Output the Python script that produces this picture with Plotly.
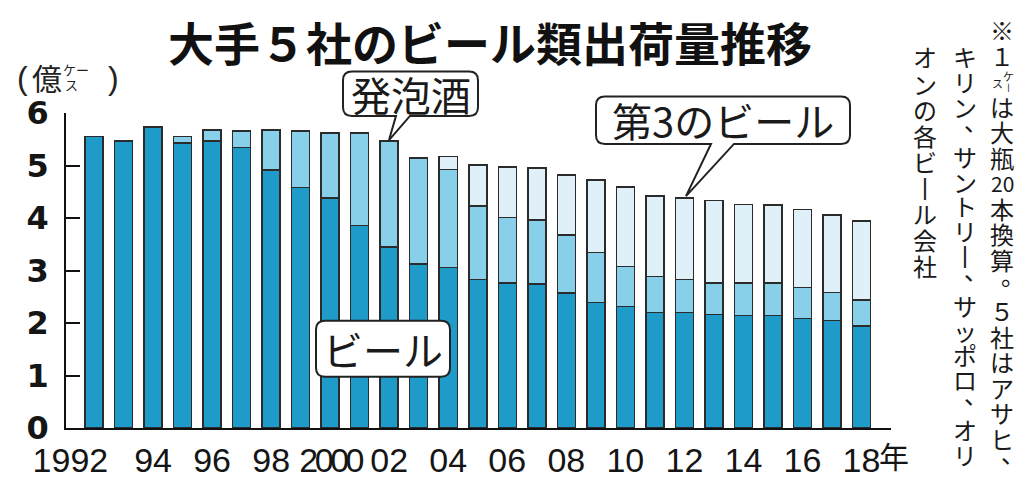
import plotly.graph_objects as go

# ---------------- data (億ケース) ----------------
years = list(range(1992, 2019))
beer = [5.55, 5.47, 5.72, 5.43, 5.47, 5.34, 4.91, 4.58, 4.38, 3.86, 3.45, 3.12, 3.06,
        2.83, 2.76, 2.74, 2.57, 2.39, 2.31, 2.20, 2.20, 2.16, 2.14, 2.14, 2.09, 2.05, 1.94]
happoshu = [None, None, 0.02, 0.12, 0.21, 0.32, 0.77, 1.08, 1.24, 1.76, 2.02, 2.01, 1.86,
            1.40, 1.25, 1.22, 1.11, 0.95, 0.77, 0.69, 0.63, 0.60, 0.62, 0.62, 0.59, 0.53, 0.50]
third_beer = [None, None, None, None, None, None, None, None, None, None, None, 0.02, 0.25,
              0.78, 0.96, 0.99, 1.14, 1.38, 1.51, 1.53, 1.55, 1.57, 1.50, 1.49, 1.48, 1.48, 1.50]
series_names = ["ビール", "発泡酒", "第3のビール"]
tick_years = [1992, 1994, 1996, 1998, 2000, 2002, 2004, 2006, 2008, 2010, 2012, 2014, 2016, 2018]
tick_text = ["1992\u00a0\u00a0\u00a0\u00a0\u00a0", "94", "96", "98",
             "<span style='letter-spacing:-3.5px'>2000</span>", "02", "04", "06", "08",
             "10", "12", "14", "16", "18"]
y_ticks = [0, 1, 2, 3, 4, 5, 6]
title_text = "大手５社のビール類出荷量推移"
note_cols = [
    ["※", "１", None, "は", "大", "瓶", "20", "本", "換", "算", "。", "５", "社", "は", "ア", "サ", "ヒ", "、"],
    ["キ", "リ", "ン", "、", "サ", "ン", "ト", "リ", "丨", "、", "サ", "ッ", "ポ", "ロ", "、", "オ", "リ"],
    ["オ", "ン", "の", "各", "ビ", "丨", "ル", "会", "社"],
]

# ---------------- layout helpers ----------------
W, H = 1024, 483
L, R, T, B = 58, 141, 105, 52
PW, PH = W - L - R, H - T - B


def px(x):
    return (x - L) / PW


def py(y):
    return (H - B - y) / PH


COL_BEER = "#1f9bc9"
COL_HAPPO = "#88cfea"
COL_THIRD = "#e0f0f8"
EDGE = "#2b2b2b"
JP = "Noto Sans CJK JP"

fig = go.Figure()
for name, vals, col in zip(series_names, [beer, happoshu, third_beer], [COL_BEER, COL_HAPPO, COL_THIRD]):
    fig.add_trace(go.Bar(x=years, y=vals, name=name, marker=dict(color=col, line=dict(color=EDGE, width=1.5))))

fig.update_layout(
    width=W, height=H, barmode="stack", bargap=0.39, showlegend=False,
    margin=dict(l=L, r=R, t=T, b=B, pad=0),
    paper_bgcolor="white", plot_bgcolor="white",
    xaxis=dict(range=[1991.05, 2019.0], tickvals=tick_years, ticktext=tick_text, tickangle=0,
               showline=True, linecolor="#111", linewidth=1.5, ticks="", showgrid=False, zeroline=False,
               tickfont=dict(family="Liberation Sans", size=34, color="#151515"), ticklabelstandoff=1),
    yaxis=dict(range=[0, 6], tickvals=y_ticks, showline=True, linecolor="#111", linewidth=1.5,
               ticks="inside", ticklen=14, tickwidth=1.5, tickcolor="#111", showgrid=False, zeroline=False,
               tickfont=dict(family="DejaVu Sans", size=32, color="#151515", weight="bold"),
               ticklabelstandoff=9),
)

annotations = []
shapes = []


def txt(x, y, s, size, weight="normal", family=JP, color="#1a1a1a"):
    annotations.append(dict(x=px(x), y=py(y), xref="paper", yref="paper", text=s, showarrow=False,
                            xanchor="center", yanchor="middle",
                            font=dict(family=family, size=size, color=color, weight=weight)))


def callout(x0, y0, x1, y1, r=9, tail=None):
    p = lambda x, y: f"{px(x):.5f},{py(y):.5f}"
    d = f"M {p(x0 + r, y0)} L {p(x1 - r, y0)} Q {p(x1, y0)} {p(x1, y0 + r)} L {p(x1, y1 - r)} Q {p(x1, y1)} {p(x1 - r, y1)} "
    if tail:
        bx0, bx1, tx, ty = tail
        d += f"L {p(bx1, y1)} L {p(tx, ty)} L {p(bx0, y1)} "
    d += f"L {p(x0 + r, y1)} Q {p(x0, y1)} {p(x0, y1 - r)} L {p(x0, y0 + r)} Q {p(x0, y0)} {p(x0 + r, y0)} Z"
    shapes.append(dict(type="path", path=d, xref="paper", yref="paper", layer="above",
                       fillcolor="white", line=dict(color="#222", width=2)))


# title
txt(482, 31, title_text, 46, weight="bold", color="#111")

# unit label (億ケース)
txt(14, 69, "(", 32, family="Liberation Sans", color="#222")
txt(39, 68, "億", 30, color="#222")
txt(68, 60, "ケー", 13, color="#222")
txt(63, 76, "ス", 13, color="#222")
txt(105, 69, ")", 32, family="Liberation Sans", color="#222")

# callouts
callout(335, 62, 470, 108, tail=(388, 402, 381, 133))
txt(403, 85, series_names[1], 40)
callout(588, 88, 842, 137, tail=(703, 726, 678, 191))
txt(715, 112, series_names[2], 40)
callout(308, 320, 442, 378)
txt(375, 349, series_names[0], 40)

# 年 after last tick label
txt(886, 459, "年", 30, color="#151515")

# vertical note
col_x = [994, 957, 917]
col_start = [19, 47, 47]
col_step = [26.4, 25.7, 27.0]
for cx, cy0, st, chars in zip(col_x, col_start, col_step, note_cols):
    for i, ch in enumerate(chars):
        y = cy0 + i * st
        if ch is None:
            txt(cx + 6, y - 5, "ケ", 11)
            txt(cx + 6, y + 7, "丨", 9)
            txt(cx - 5, y + 2, "ス", 11)
        elif ch in ("、", "。"):
            txt(cx + 11, y - 11, ch, 24)
        elif ch == "20":
            txt(cx, y, ch, 21)
        else:
            txt(cx, y, ch, 24)

fig.update_layout(annotations=annotations, shapes=shapes)
fig.write_html("out.html")
